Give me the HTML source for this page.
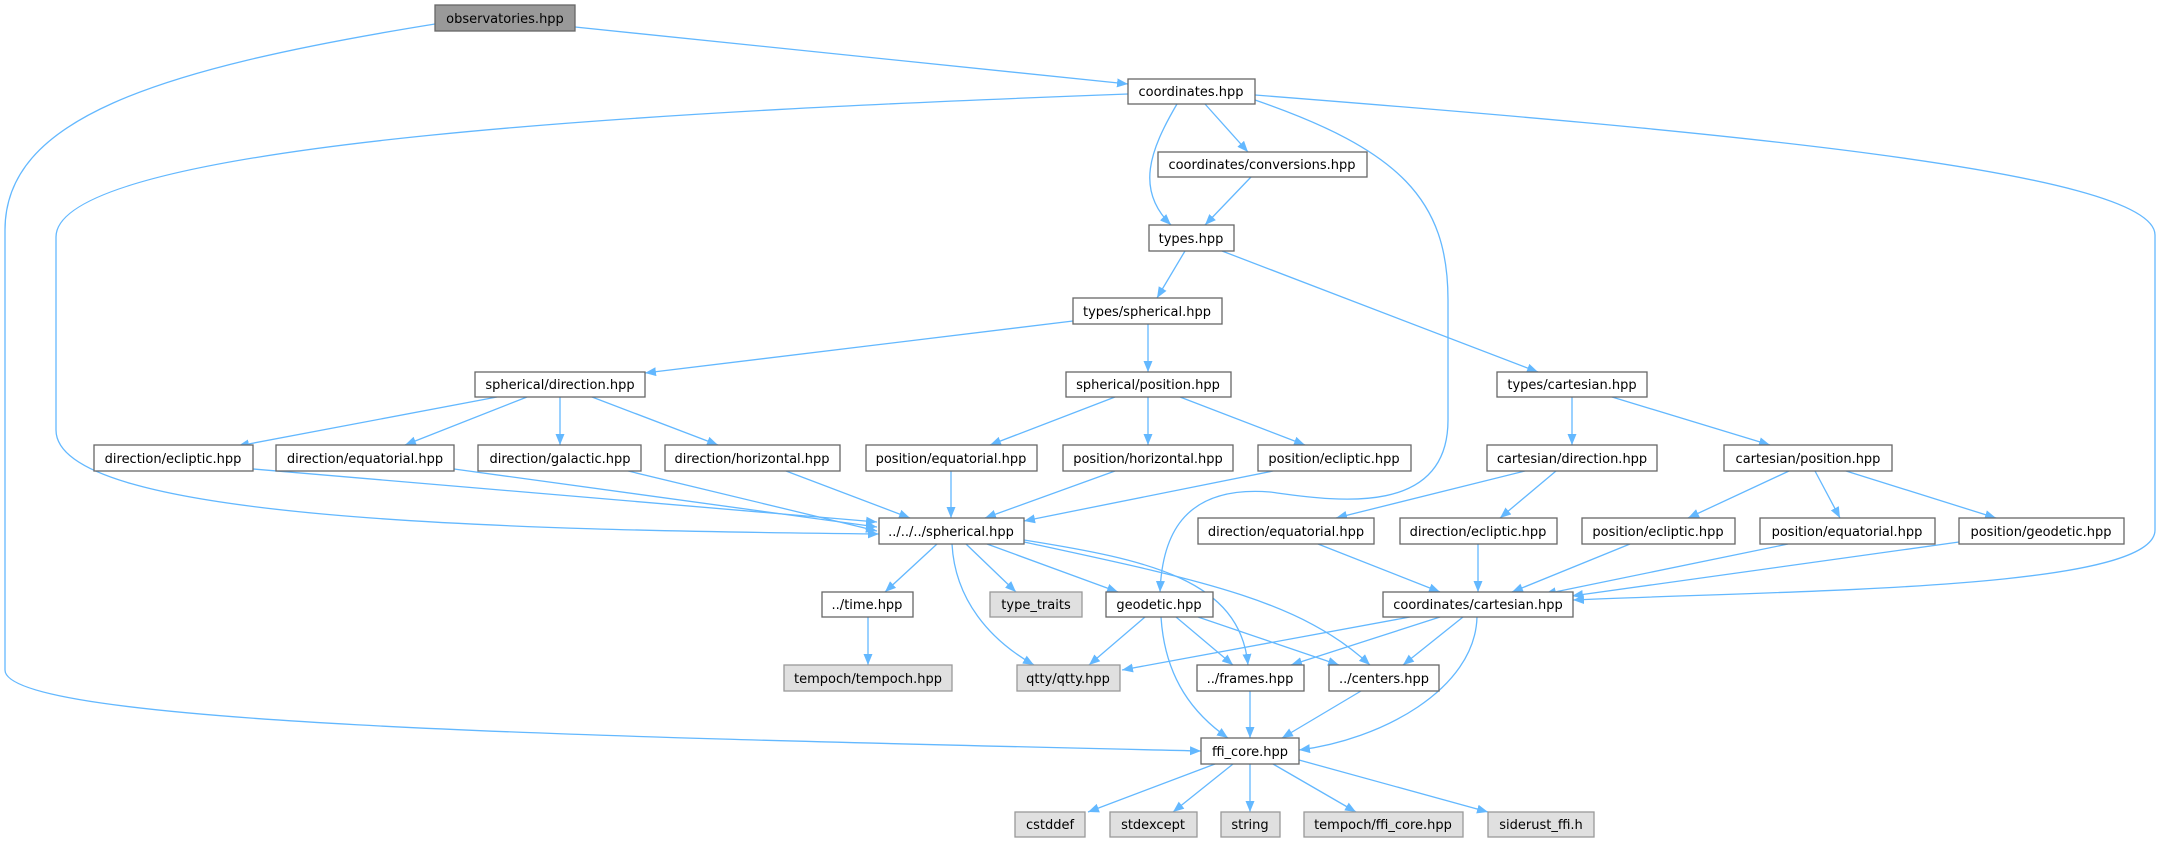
<!DOCTYPE html>
<html><head><meta charset="utf-8"><style>
html,body{margin:0;padding:0;background:#fff;}
svg{display:block;}
text{font-family:"DejaVu Sans","Liberation Sans",sans-serif;font-size:13px;fill:#000;text-anchor:middle;}
.e{fill:none;stroke:#63b8ff;stroke-width:1.3;marker-end:url(#a);}
.n rect{fill:#fff;stroke:#666;stroke-width:1.3;}
.g rect{fill:#e0e0e0;stroke:#999;stroke-width:1.3;}
.r rect{fill:#999;stroke:#666;stroke-width:1.3;}
</style></head><body>
<svg width="2163" height="843" viewBox="0 0 2163 843" xmlns="http://www.w3.org/2000/svg">
<defs><marker id="a" markerUnits="userSpaceOnUse" markerWidth="12" markerHeight="10" refX="11" refY="4.5" orient="auto"><path d="M0,0 L11,4.5 L0,9 z" fill="#63b8ff"/></marker></defs>
<!-- edges -->
<path class="e" d="M575,27 L1128,84"/>
<path class="e" d="M435,24 C150,70 5,120 5,230 L5,670 C5,725 600,737 1201,751"/>
<path class="e" d="M1128,94 C700,110 56,140 56,237 L56,430 C56,520 500,530 879,534"/>
<path class="e" d="M1177,104 C1150,150 1135,190 1171,225"/>
<path class="e" d="M1205,104 L1248,152"/>
<path class="e" d="M1255,100 C1400,150 1448,200 1448,300 L1448,420 C1448,520 1330,500 1270,492 C1180,485 1162,540 1160,592"/>
<path class="e" d="M1255,95 C1700,130 2155,170 2155,235 L2155,530 C2155,590 1800,590 1573,600"/>
<path class="e" d="M1251,177 L1205,225"/>
<path class="e" d="M1185,251 L1157,298"/>
<path class="e" d="M1222,251 L1538,372"/>
<path class="e" d="M1073,321 L645,373"/>
<path class="e" d="M1148,324 L1148,372"/>
<path class="e" d="M497,397 L238,446"/>
<path class="e" d="M527,397 L405,445"/>
<path class="e" d="M560,397 L560,445"/>
<path class="e" d="M592,397 L718,445"/>
<path class="e" d="M1115,397 L990,445"/>
<path class="e" d="M1148,397 L1148,445"/>
<path class="e" d="M1180,397 L1305,445"/>
<path class="e" d="M1572,397 L1572,445"/>
<path class="e" d="M1612,397 L1770,445"/>
<path class="e" d="M253,469 L877,522"/>
<path class="e" d="M454,469 L877,527"/>
<path class="e" d="M624,470 L877,531"/>
<path class="e" d="M786,471 L910,518"/>
<path class="e" d="M951,471 L951,518"/>
<path class="e" d="M1115,471 L985,518"/>
<path class="e" d="M1273,471 L1024,521"/>
<path class="e" d="M1525,471 L1336,518"/>
<path class="e" d="M1556,471 L1500,518"/>
<path class="e" d="M1789,471 L1688,518"/>
<path class="e" d="M1815,471 L1840,518"/>
<path class="e" d="M1846,471 L1996,518"/>
<path class="e" d="M1318,544 L1440,592"/>
<path class="e" d="M1478,544 L1478,592"/>
<path class="e" d="M1630,544 L1512,592"/>
<path class="e" d="M1788,544 L1545,594"/>
<path class="e" d="M1959,542 L1572,596"/>
<path class="e" d="M937,544 L885,592"/>
<path class="e" d="M966,544 L1016,592"/>
<path class="e" d="M987,544 L1118,592"/>
<path class="e" d="M952,544 C955,600 990,640 1034,665"/>
<path class="e" d="M1024,540 C1150,560 1240,580 1248,665"/>
<path class="e" d="M1024,542 C1200,580 1300,600 1370,665"/>
<path class="e" d="M1145,617 L1089,665"/>
<path class="e" d="M1176,617 L1233,665"/>
<path class="e" d="M1198,617 L1339,665"/>
<path class="e" d="M1161,617 C1165,680 1195,715 1228,738"/>
<path class="e" d="M1410,617 L1122,670"/>
<path class="e" d="M1440,617 L1291,665"/>
<path class="e" d="M1463,617 L1403,665"/>
<path class="e" d="M1477,617 C1475,690 1380,740 1299,750"/>
<path class="e" d="M868,617 L868,665"/>
<path class="e" d="M1250,691 L1250,738"/>
<path class="e" d="M1361,691 L1282,738"/>
<path class="e" d="M1215,764 L1088,812"/>
<path class="e" d="M1233,764 L1173,812"/>
<path class="e" d="M1250,764 L1250,812"/>
<path class="e" d="M1273,764 L1356,812"/>
<path class="e" d="M1299,760 L1488,812"/>
<!-- nodes -->
<g class="r"><rect x="435" y="5" width="140" height="26"/><text x="505" y="23">observatories.hpp</text></g>
<g class="n">
<rect x="1128" y="79" width="127" height="25"/><text x="1191" y="96">coordinates.hpp</text>
<rect x="1158" y="152" width="209" height="25"/><text x="1262" y="169">coordinates/conversions.hpp</text>
<rect x="1149" y="225" width="85" height="26"/><text x="1191" y="243">types.hpp</text>
<rect x="1073" y="298" width="149" height="26"/><text x="1147" y="316">types/spherical.hpp</text>
<rect x="475" y="372" width="170" height="25"/><text x="560" y="389">spherical/direction.hpp</text>
<rect x="1066" y="372" width="165" height="25"/><text x="1148" y="389">spherical/position.hpp</text>
<rect x="1497" y="372" width="150" height="25"/><text x="1572" y="389">types/cartesian.hpp</text>
<rect x="94" y="445" width="159" height="26"/><text x="173" y="463">direction/ecliptic.hpp</text>
<rect x="276" y="445" width="178" height="26"/><text x="365" y="463">direction/equatorial.hpp</text>
<rect x="478" y="445" width="163" height="26"/><text x="560" y="463">direction/galactic.hpp</text>
<rect x="665" y="445" width="175" height="26"/><text x="752" y="463">direction/horizontal.hpp</text>
<rect x="866" y="445" width="171" height="26"/><text x="951" y="463">position/equatorial.hpp</text>
<rect x="1063" y="445" width="170" height="26"/><text x="1148" y="463">position/horizontal.hpp</text>
<rect x="1258" y="445" width="153" height="26"/><text x="1334" y="463">position/ecliptic.hpp</text>
<rect x="1487" y="445" width="170" height="26"/><text x="1572" y="463">cartesian/direction.hpp</text>
<rect x="1724" y="445" width="168" height="26"/><text x="1808" y="463">cartesian/position.hpp</text>
<rect x="879" y="518" width="145" height="26"/><text x="951" y="536">../../../spherical.hpp</text>
<rect x="1198" y="518" width="176" height="26"/><text x="1286" y="536">direction/equatorial.hpp</text>
<rect x="1400" y="518" width="157" height="26"/><text x="1478" y="536">direction/ecliptic.hpp</text>
<rect x="1582" y="518" width="153" height="26"/><text x="1658" y="536">position/ecliptic.hpp</text>
<rect x="1760" y="518" width="175" height="26"/><text x="1847" y="536">position/equatorial.hpp</text>
<rect x="1959" y="518" width="165" height="26"/><text x="2041" y="536">position/geodetic.hpp</text>
<rect x="822" y="592" width="91" height="25"/><text x="867" y="609">../time.hpp</text>
<rect x="1106" y="592" width="107" height="25"/><text x="1159" y="609">geodetic.hpp</text>
<rect x="1383" y="592" width="190" height="25"/><text x="1478" y="609">coordinates/cartesian.hpp</text>
<rect x="1197" y="665" width="107" height="26"/><text x="1250" y="683">../frames.hpp</text>
<rect x="1329" y="665" width="110" height="26"/><text x="1384" y="683">../centers.hpp</text>
<rect x="1201" y="738" width="98" height="26"/><text x="1250" y="756">ffi_core.hpp</text>
</g>
<g class="g">
<rect x="990" y="592" width="92" height="25"/><text x="1036" y="609">type_traits</text>
<rect x="784" y="665" width="168" height="26"/><text x="868" y="683">tempoch/tempoch.hpp</text>
<rect x="1017" y="665" width="103" height="26"/><text x="1068" y="683">qtty/qtty.hpp</text>
<rect x="1015" y="812" width="70" height="25"/><text x="1050" y="829">cstddef</text>
<rect x="1110" y="812" width="87" height="25"/><text x="1153" y="829">stdexcept</text>
<rect x="1221" y="812" width="59" height="25"/><text x="1250" y="829">string</text>
<rect x="1304" y="812" width="159" height="25"/><text x="1383" y="829">tempoch/ffi_core.hpp</text>
<rect x="1488" y="812" width="106" height="25"/><text x="1541" y="829">siderust_ffi.h</text>
</g>
</svg>
</body></html>
